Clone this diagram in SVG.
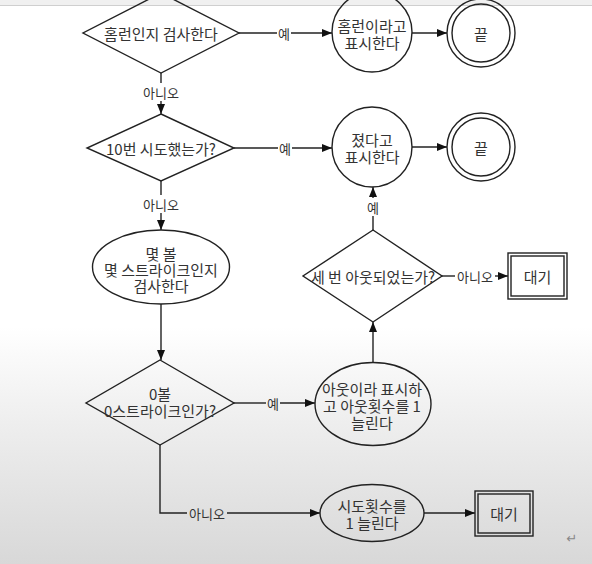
<svg xmlns="http://www.w3.org/2000/svg" width="592" height="564" viewBox="0 0 592 564">
  <defs>
    <linearGradient id="bg" x1="0" y1="0" x2="0" y2="564" gradientUnits="userSpaceOnUse">
      <stop offset="0" stop-color="#ffffff"/>
      <stop offset="0.58" stop-color="#ffffff"/>
      <stop offset="0.75" stop-color="#eeeeee"/>
      <stop offset="1" stop-color="#d8d8d8"/>
    </linearGradient>
    <marker id="arrow" markerUnits="userSpaceOnUse" markerWidth="10" markerHeight="8" refX="10" refY="4" orient="auto">
      <path d="M0,0 L10,4 L0,8 z" fill="#111"/>
    </marker>
    <style>
      .shape { fill: none; stroke: #222; stroke-width: 1.4; }
      .edge { fill: none; stroke: #222; stroke-width: 1.4; }
      .arr { marker-end: url(#arrow); }
      .t { font-family: "Noto Sans CJK KR", "Noto Sans", sans-serif; font-size: 15px; fill: #333; text-anchor: middle; dominant-baseline: central; }
      .lbl { font-family: "Noto Sans CJK KR", "Noto Sans", sans-serif; font-size: 13px; fill: #333; text-anchor: middle; dominant-baseline: central; }
    </style>
  </defs>

  <rect x="0" y="0" width="592" height="564" fill="url(#bg)"/>
  <!-- window toolbar strip along the top edge -->
  <rect x="0" y="0" width="592" height="5" fill="#f0f0f0"/>
  <line x1="0" y1="5.5" x2="592" y2="5.5" stroke="#cfcfcf" stroke-width="1"/>

  <g id="connectors">
    <!-- homerun check: yes -->
    <line class="edge" x1="239" y1="33" x2="277" y2="33"/>
    <text class="lbl" x="284" y="33">예</text>
    <line class="edge arr" x1="291" y1="33" x2="332" y2="33"/>
    <line class="edge arr" x1="412" y1="33" x2="447" y2="33"/>
    <!-- homerun check: no -->
    <line class="edge" x1="161" y1="73" x2="161" y2="83"/>
    <text class="lbl" x="161" y="92">아니오</text>
    <line class="edge arr" x1="161" y1="101" x2="161" y2="114"/>
    <!-- ten tries: yes -->
    <line class="edge" x1="234" y1="148" x2="278" y2="148"/>
    <text class="lbl" x="285" y="148">예</text>
    <line class="edge arr" x1="292" y1="148" x2="332" y2="148"/>
    <line class="edge arr" x1="412" y1="147" x2="447" y2="147"/>
    <!-- ten tries: no -->
    <line class="edge" x1="161" y1="181" x2="161" y2="195"/>
    <text class="lbl" x="161" y="204">아니오</text>
    <line class="edge arr" x1="161" y1="213" x2="161" y2="230"/>
    <!-- ball/strike check to zero-zero decision -->
    <line class="edge arr" x1="161" y1="304" x2="161" y2="360"/>
    <!-- zero-zero: yes -->
    <line class="edge" x1="234" y1="403" x2="266" y2="403"/>
    <text class="lbl" x="273" y="403">예</text>
    <line class="edge arr" x1="280" y1="403" x2="315" y2="403"/>
    <!-- out recorded to three-outs decision -->
    <line class="edge arr" x1="373" y1="363" x2="373" y2="322"/>
    <!-- three outs: yes -->
    <line class="edge" x1="373" y1="230" x2="373" y2="216"/>
    <text class="lbl" x="373" y="207">예</text>
    <line class="edge arr" x1="373" y1="198" x2="373" y2="187"/>
    <!-- three outs: no -->
    <line class="edge" x1="442" y1="276" x2="455" y2="276"/>
    <text class="lbl" x="475" y="276">아니오</text>
    <line class="edge arr" x1="495" y1="276" x2="508" y2="276"/>
    <!-- zero-zero: no -->
    <polyline class="edge" points="160,445 160,513 187,513"/>
    <text class="lbl" x="207" y="513">아니오</text>
    <line class="edge arr" x1="227" y1="513" x2="320" y2="513"/>
    <line class="edge arr" x1="424" y1="513" x2="475" y2="513"/>
  </g>

  <g id="check-homerun">
    <polygon class="shape" points="161,-7 239,33 161,73 83,33"/>
    <text class="t" x="161" y="33">홈런인지 검사한다</text>
  </g>
  <g id="show-homerun">
    <circle class="shape" cx="372" cy="32" r="40"/>
    <text class="t"><tspan x="372" y="25">홈런이라고</tspan><tspan x="372" y="42">표시한다</tspan></text>
  </g>
  <g id="end-1">
    <circle class="shape" cx="481" cy="33" r="34"/>
    <circle class="shape" cx="481" cy="33" r="29"/>
    <text class="t" x="481" y="33">끝</text>
  </g>

  <g id="check-ten-tries">
    <polygon class="shape" points="161,114 234,148 161,181 87,148"/>
    <text class="t" x="161" y="148">10번 시도했는가?</text>
  </g>
  <g id="show-lost">
    <circle class="shape" cx="372" cy="147" r="40"/>
    <text class="t"><tspan x="372" y="139">졌다고</tspan><tspan x="372" y="156">표시한다</tspan></text>
  </g>
  <g id="end-2">
    <circle class="shape" cx="481" cy="147" r="34"/>
    <circle class="shape" cx="481" cy="147" r="29"/>
    <text class="t" x="481" y="147">끝</text>
  </g>

  <g id="check-ball-strike">
    <ellipse class="shape" cx="161" cy="267" rx="68.5" ry="37"/>
    <text class="t"><tspan x="161" y="253">몇 볼</tspan><tspan x="161" y="269">몇 스트라이크인지</tspan><tspan x="161" y="285">검사한다</tspan></text>
  </g>

  <g id="check-three-outs">
    <polygon class="shape" points="373,230 442,276 373,322 303,276"/>
    <text class="t" x="373" y="276">세 번 아웃되었는가?</text>
  </g>
  <g id="wait-1">
    <rect class="shape" x="508" y="253" width="59" height="46"/>
    <rect class="shape" x="511" y="256" width="53" height="40"/>
    <text class="t" x="537.5" y="276">대기</text>
  </g>

  <g id="check-zero-zero">
    <polygon class="shape" points="160,360 234,403 160,445 86,403"/>
    <text class="t"><tspan x="160" y="393">0볼</tspan><tspan x="160" y="410">0스트라이크인가?</tspan></text>
  </g>
  <g id="record-out">
    <ellipse class="shape" cx="373" cy="404" rx="58" ry="41.5"/>
    <text class="t"><tspan x="372" y="388">아웃이라 표시하</tspan><tspan x="372" y="405">고 아웃횟수를 1</tspan><tspan x="372" y="422">늘린다</tspan></text>
  </g>

  <g id="add-try">
    <ellipse class="shape" cx="372" cy="513" rx="52" ry="28.5"/>
    <text class="t"><tspan x="372" y="505">시도횟수를</tspan><tspan x="372" y="522">1 늘린다</tspan></text>
  </g>
  <g id="wait-2">
    <rect class="shape" x="475" y="491" width="58" height="45"/>
    <rect class="shape" x="478" y="494" width="52" height="39"/>
    <text class="t" x="504" y="513">대기</text>
  </g>

  <!-- paragraph mark -->
  <text x="572" y="538" font-family="DejaVu Sans, sans-serif" font-size="13" fill="#888" text-anchor="middle" dominant-baseline="central">↵</text>
</svg>
